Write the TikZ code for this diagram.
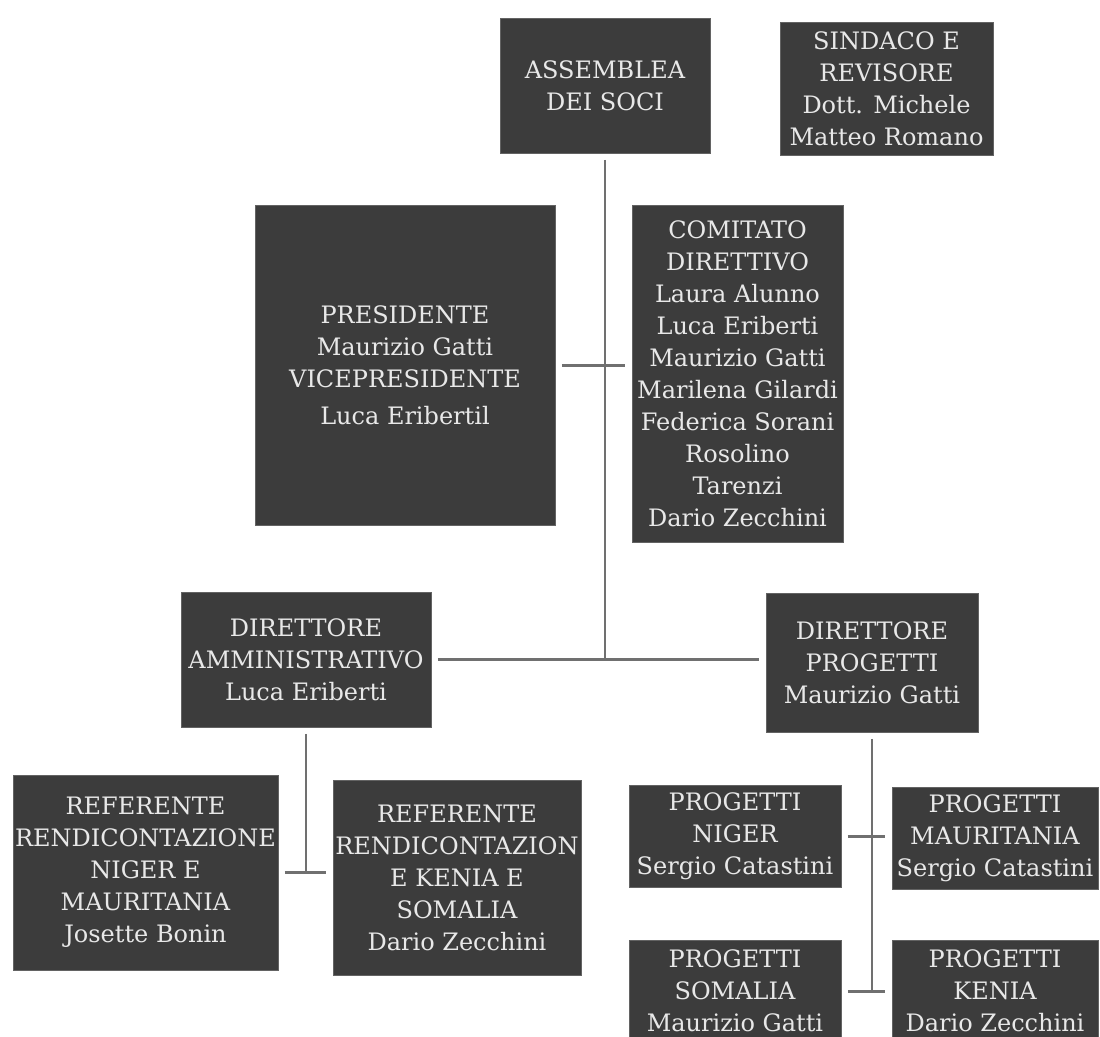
\documentclass[tikz,border=0pt]{standalone}
\usepackage{fontspec}
\setmainfont{DejaVu Serif}
\definecolor{boxfill}{RGB}{60,60,60}
\definecolor{boxtext}{RGB}{232,232,232}
\definecolor{linkgray}{RGB}{112,112,112}

\begin{document}
\begin{tikzpicture}[x=0.02cm, y=-0.02cm,
  box/.style 2 args={draw=boxfill!80!white, fill=boxfill, text=boxtext,
    minimum width=#1, minimum height=#2, inner xsep=1pt, inner ysep=0pt,
    outer sep=0.14cm, align=center,
    font=\fontsize{13.66pt}{18.2pt}\selectfont},
  link/.style={draw=linkgray, line width=1.7pt}]
%\draw[step=50,gray,very thin] (0,0) grid (1100,1036); %grid lines
\useasboundingbox (0,0) rectangle (1100,1036);
\clip (0,0) rectangle (1100,1036);
\fill[white] (0,0) rectangle (1100,1036);

\draw node[box={4.2cm}{2.7cm}] (asm) at (605, 85.5) {ASSEMBLEA\\DEI SOCI};
\draw node[box={4.26cm}{2.66cm}] (sind) at (886.5, 88.5) {SINDACO E\\REVISORE\\Dott. Michele\\Matteo Romano};

\draw node[box={6cm}{6.4cm}] (pres) at (405, 365) {PRESIDENTE\\Maurizio Gatti\\VICEPRESIDENTE\\[3pt]Luca Eribertil};
\draw node[box={4.22cm}{6.74cm}] (com) at (737.5, 373.5) {COMITATO\\DIRETTIVO\\Laura Alunno\\Luca Eriberti\\Maurizio Gatti\\Marilena Gilardi\\Federica Sorani\\Rosolino\\Tarenzi\\Dario Zecchini};

\draw node[box={5cm}{2.7cm}] (damm) at (306, 659.5) {DIRETTORE\\AMMINISTRATIVO\\Luca Eriberti};
\draw node[box={4.24cm}{2.78cm}] (dprog) at (872, 662.5) {DIRETTORE\\PROGETTI\\Maurizio Gatti};

\draw node[box={5.3cm}{3.9cm}] (refa) at (145.5, 872.5) {REFERENTE\\RENDICONTAZIONE\\NIGER E\\MAURITANIA\\Josette Bonin};
\draw node[box={4.96cm}{3.9cm}] (refb) at (457, 877.5) {REFERENTE\\RENDICONTAZION\\E KENIA E\\SOMALIA\\Dario Zecchini};

\draw node[box={4.24cm}{2.04cm}] (pnig) at (735, 836) {PROGETTI\\NIGER\\Sergio Catastini};
\draw node[box={4.12cm}{2.04cm}] (pmau) at (995, 838) {PROGETTI\\MAURITANIA\\Sergio Catastini};
\draw node[box={4.24cm}{2.04cm}] (psom) at (735, 991) {PROGETTI\\SOMALIA\\Maurizio Gatti};
\draw node[box={4.12cm}{2.04cm}] (pken) at (995, 991) {PROGETTI\\KENIA\\Dario Zecchini};

% trunk
\draw[link] (asm.south) -- (asm.south |- damm.east);
\draw[link] (damm.east) -- (damm.east -| dprog.west);
\draw[link] (pres.east) -- (pres.east -| com.west);

% amministrazione
\draw[link] (damm.south) -- (damm.south |- refa.east);
\draw[link] (refa.east) -- (refa.east -| refb.west);

% progetti
\draw[link] (dprog.south) -- (dprog.south |- psom.east);
\draw[link] (pnig.east) -- (pnig.east -| pmau.west);
\draw[link] (psom.east) -- (psom.east -| pken.west);
\end{tikzpicture}
\end{document}
